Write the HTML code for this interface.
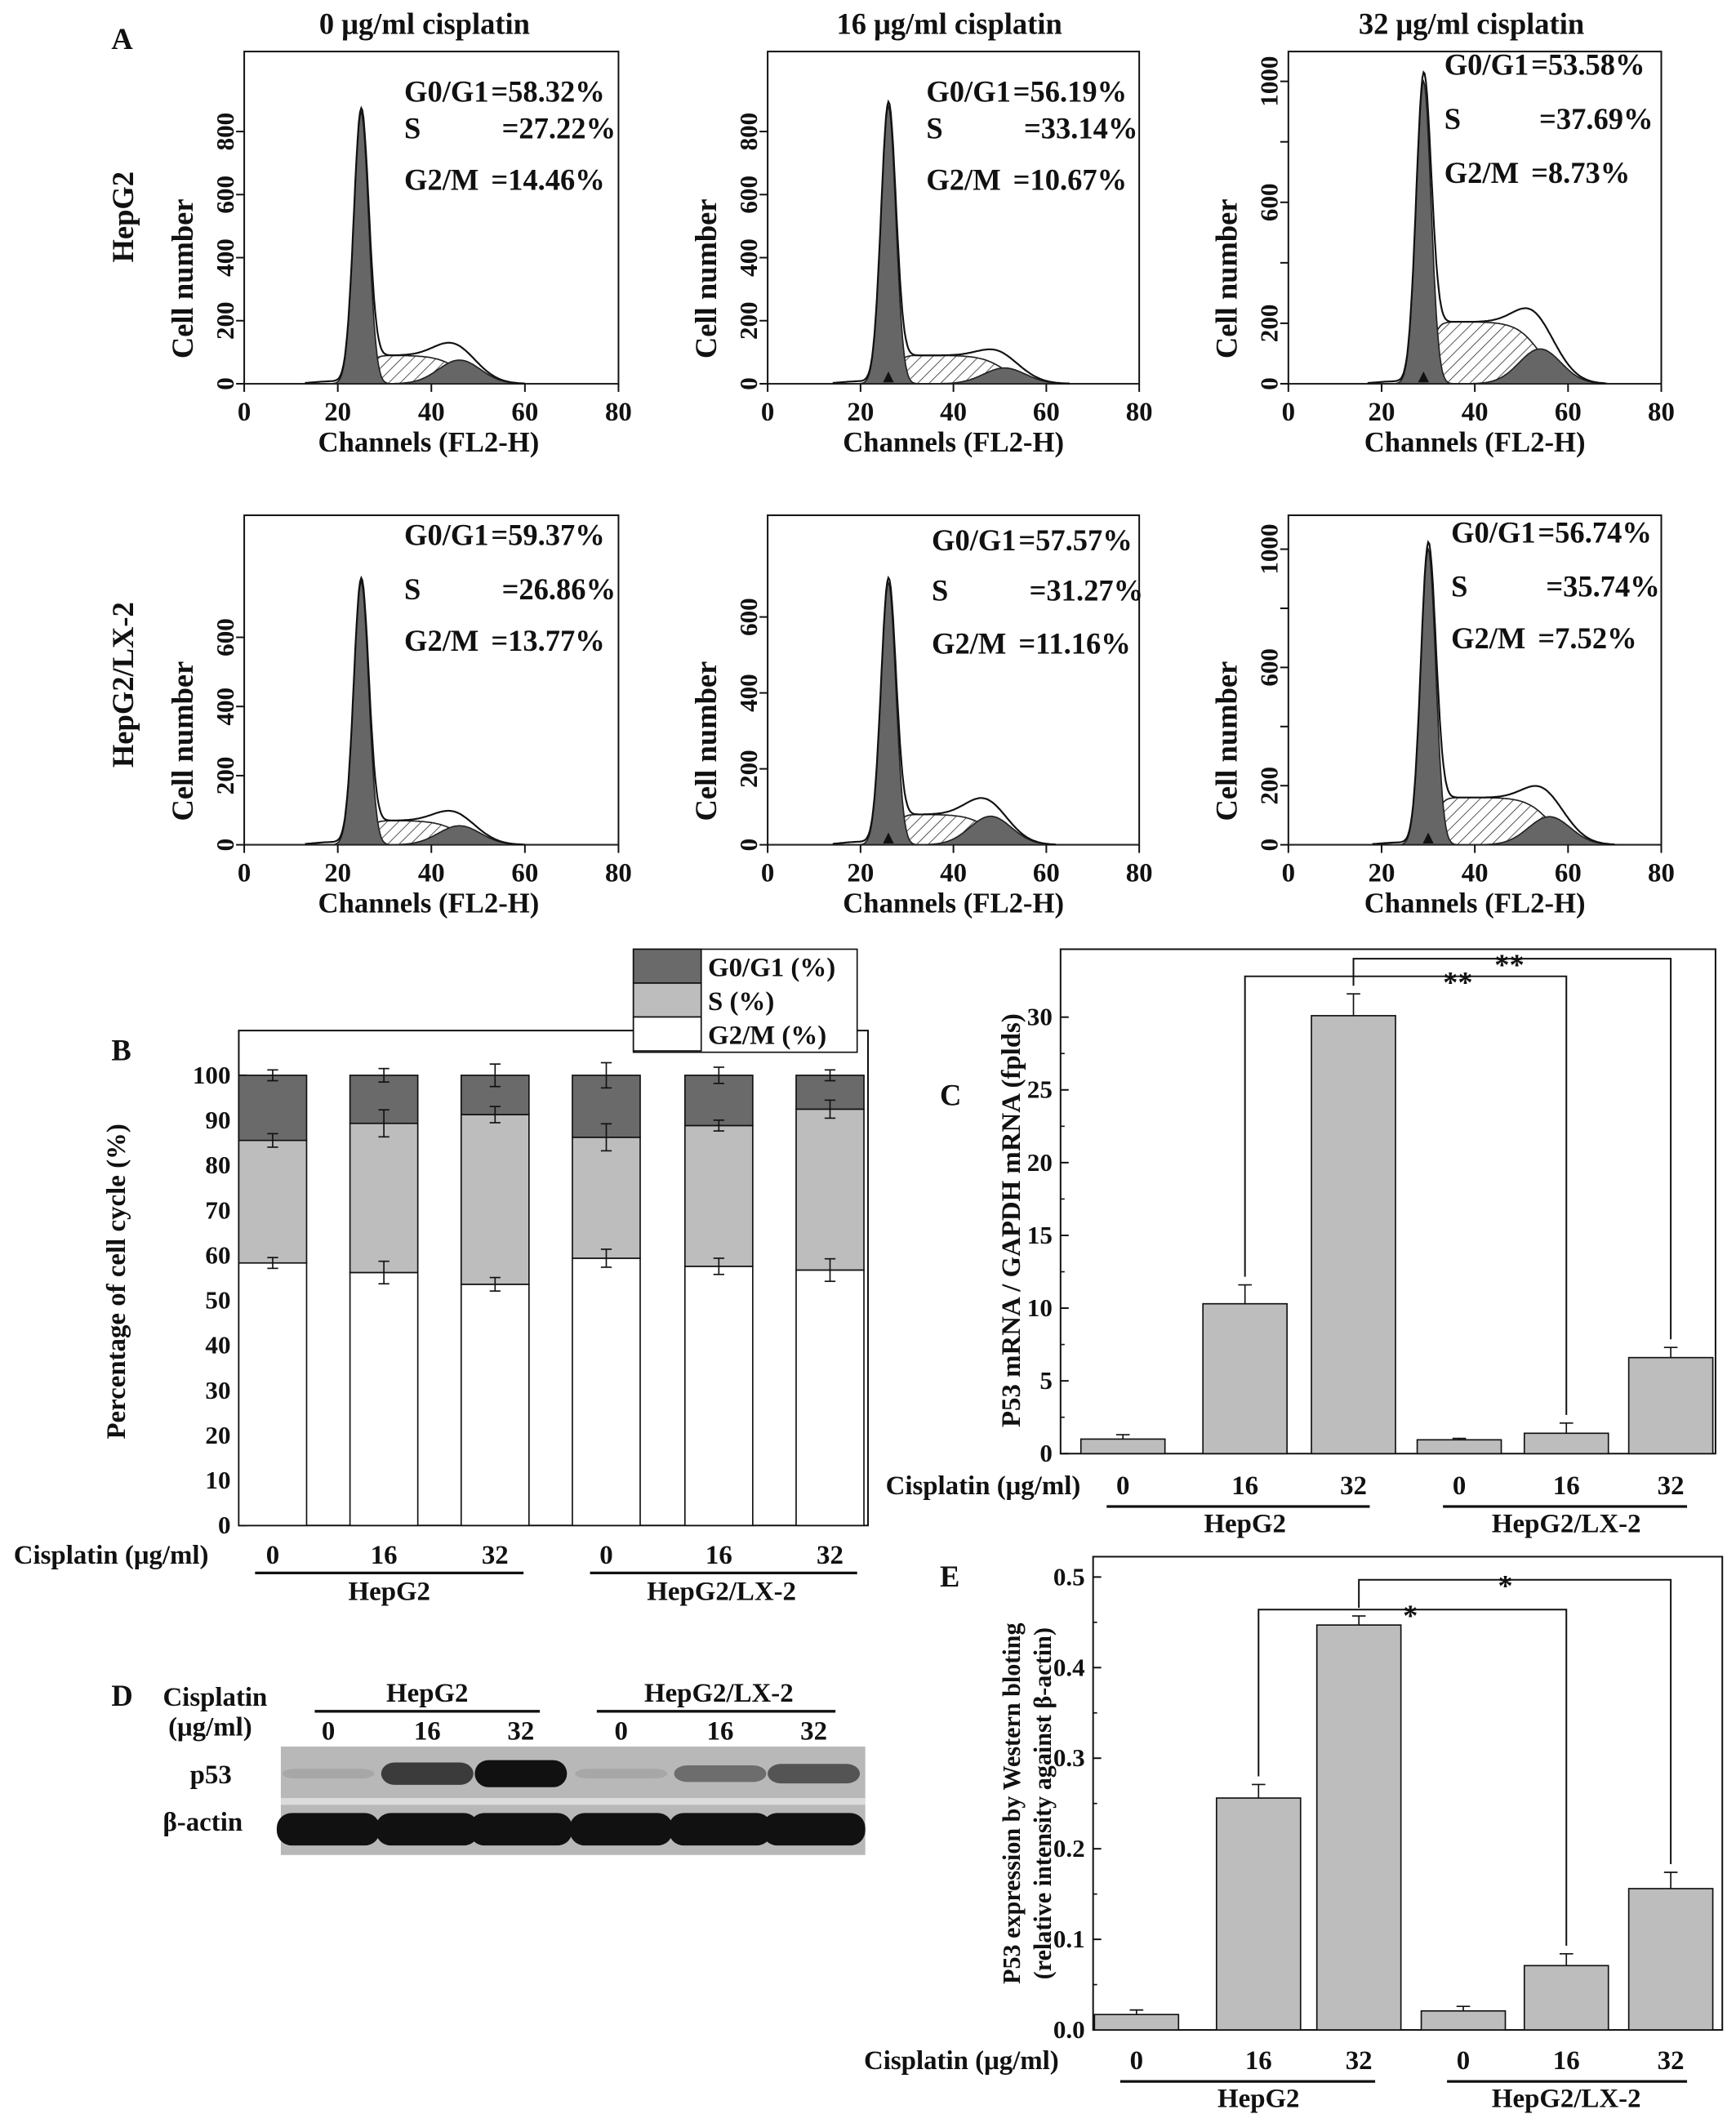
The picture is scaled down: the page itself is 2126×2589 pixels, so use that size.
<!DOCTYPE html>
<html><head><meta charset="utf-8"><style>
html,body{margin:0;padding:0;background:#fff}
svg{display:block}
text{font-family:"Liberation Serif",serif;font-weight:bold;fill:#111}
</style></head><body>
<svg id="fig" width="2126" height="2589" viewBox="0 0 1280 1559" xmlns="http://www.w3.org/2000/svg">
<defs>
<pattern id="hatch" patternUnits="userSpaceOnUse" width="6" height="6" patternTransform="rotate(45)">
<rect width="6" height="6" fill="#fff"/><line x1="0" y1="0" x2="0" y2="6" stroke="#333" stroke-width="1"/>
</pattern>
</defs>
<g id="root"></g>
</svg>
<script>
// ---------- Panel A data ----------
const statsG1 = ["=58.32%","=56.19%","=53.58%","=59.37%","=57.57%","=56.74%"];
const statsS  = ["=27.22%","=33.14%","=37.69%","=26.86%","=31.27%","=35.74%"];
const statsG2 = ["=14.46%","=10.67%","=8.73%","=13.77%","=11.16%","=7.52%"];
const g1Peak = [860,880,1000,760,690,1000];
const g1Pos  = [25,26,29,25,26,30];
const sLevel = [90,90,205,70,80,160];
const g2Peak = [75,50,115,55,75,95];
const g2Pos  = [46,51,54,46,48,56];
const histTickMax = [800,800,1000,600,600,1000];
const xTicksA = [0,20,40,60,80];
// ---------- Panel B data ----------
const bCats = ["0","16","32","0","16","32"];
const bG1 = [58.32,56.19,53.58,59.37,57.57,56.74];
const bS  = [27.22,33.14,37.69,26.86,31.27,35.74];
const bG1Err = [1.2,2.5,1.5,2.0,1.8,2.5];
const bSErr = [1.5,3.0,1.8,3.0,1.2,2.0];
const bTopErr = [1.2,1.5,2.5,2.8,1.8,1.2];
const bTicks = [0,10,20,30,40,50,60,70,80,90,100];
// ---------- Panel C data ----------
const cVals = [1.0,10.3,30.1,0.95,1.4,6.6];
const cErr  = [0.3,1.3,1.5,0.1,0.7,0.7];
const cTicks = [0,5,10,15,20,25,30];
// ---------- Panel E data ----------
const eVals = [0.017,0.256,0.447,0.021,0.071,0.156];
const eErr  = [0.005,0.015,0.01,0.005,0.013,0.018];
const eTicks = [0.0,0.1,0.2,0.3,0.4,0.5];
// ---------- Panel D blot intensities ----------
const p53Int = [0.08,0.75,1.0,0.08,0.45,0.6];
const actinInt = [1,1,1,1,1,1];

const NS="http://www.w3.org/2000/svg";
const FS=1.1;
const root=document.getElementById('root');
function el(tag,attrs,parent,txt){const e=document.createElementNS(NS,tag);for(const k in attrs)e.setAttribute(k,attrs[k]);if(txt!==undefined)e.textContent=txt;(parent||root).appendChild(e);return e;}
function T(x,y,s,size,anchor,rot,name,parent){const a={x:x,y:y,'font-size':(size||19)*FS,'text-anchor':anchor||'start'};if(rot)a.transform=`rotate(-90 ${x} ${y})`;const t=el('text',a,parent,s);

return t;}
function L(x1,y1,x2,y2,w,name,parent){const l=el('line',{x1,y1,x2,y2,stroke:'#111','stroke-width':w||1.5},parent);

return l;}

// ================= Panel A =================
T(82,36,"A",20,'start',false,'panel-a-letter');
const colX0=[180,566,950], colX1=[456,840,1225];
const titles=["0 μg/ml cisplatin","16 μg/ml cisplatin","32 μg/ml cisplatin"];
const titleX=[313,700,1085];
titles.forEach((t,i)=>T(titleX[i],25,t,20,'middle',false,'column-title'));
T(98,160,"HepG2",20,'middle',true,'row-label-hepg2');
T(98,505,"HepG2/LX-2",20,'middle',true,'row-label-hepg2-lx2');
const rowBase=[283,623], rowTop=[38,380];
const topTickY=[97,97,60,470,455,405];
const statX=[[298,362,370],[683,747,755],[1065,1129,1135],[298,362,370],[687,751,759],[1070,1134,1140]];
const statY=[[75,102,140],[75,102,140],[55,95,135],[402,442,480],[406,443,482],[400,440,478]];
const tickStepLbl=[200,200,400,200,200,400];
function gauss(c,p,s){return Math.exp(-(c-p)*(c-p)/(2*s*s));}
function sig(x){return 1/(1+Math.exp(-x));}
for(let k=0;k<6;k++){
  const r=Math.floor(k/3), c=k%3;
  const g=el('g',{});
  
  
  const x0=colX0[c], x1=colX1[c], yb=rowBase[r], yt=rowTop[r];
  const xs=v=>x0+(x1-x0)*v/80;
  const ppu=(yb-topTickY[k])/histTickMax[k];
  const ys=v=>yb-v*ppu;
  const fr=el('rect',{x:x0,y:yt,width:x1-x0,height:yb-yt,fill:'none',stroke:'#111','stroke-width':1.2},g);
  
  
  const p1=g1Pos[k], p2=g2Pos[k];
  const sFn=ch=>sLevel[k]*sig((ch-p1-1.5)/0.8)*sig((p2-ch)/2.5);
  const g1Fn=ch=>g1Peak[k]*gauss(ch,p1,1.6);
  const g2Fn=ch=>g2Peak[k]*gauss(ch,p2,4.5);
  const pts=[];for(let ch=0;ch<=80;ch+=0.25)pts.push(ch);
  const area=(fn)=>{let d=`M${xs(0)},${yb}`;pts.forEach(ch=>d+=`L${xs(ch).toFixed(1)},${ys(fn(ch)).toFixed(1)}`);return d+`L${xs(80)},${yb}Z`;};
  const sp=el('path',{d:area(sFn),fill:'url(#hatch)',stroke:'#222','stroke-width':1},g);
  
  
  const gp1=el('path',{d:area(g1Fn),fill:'#666',stroke:'#222','stroke-width':1},g);
  
  
  const gp2=el('path',{d:area(g2Fn),fill:'#666',stroke:'#222','stroke-width':1},g);
  
  
  let d='';pts.filter(ch=>ch>=p1-12&&ch<=p2+14).forEach((ch,i)=>{const v=g1Fn(ch)+sFn(ch)+g2Fn(ch)+8*gauss(ch,p1-6,4);d+=(i?'L':'M')+xs(ch).toFixed(1)+','+ys(v).toFixed(1);});
  const op=el('path',{d:d,fill:'none',stroke:'#111','stroke-width':1.3},g);
  
  
  xTicksA.forEach(v=>{L(xs(v),yb,xs(v),yb+6,1.2,'x-tick',g);T(xs(v),yb+27,String(v),18,'middle',false,'x-tick-label',g);});
  for(let v=0;v<=histTickMax[k];v+=200){L(x0-6,ys(v),x0,ys(v),1.2,'y-tick',g);
    if(v===0||(tickStepLbl[k]===200)||((v-200)%400===0))T(x0-8,ys(v),String(v),17,'middle',true,'y-tick-label',g);}
  T((x0+x1)/2+(c==0?-2:0),yb+50,"Channels (FL2-H)",19,'middle',false,'x-axis-title',g);
  T(x0-38,(yt+yb)/2+45,"Cell number",20,'middle',true,'y-axis-title',g);
  if(c>0){const m=el('path',{d:`M${xs(p1)-4},${yb-1}L${xs(p1)+4},${yb-1}L${xs(p1)},${yb-9}Z`,fill:'#111'},g);
    
    }
  const sx=statX[k], sy=statY[k];
  T(sx[0],sy[0],"G0/G1",20,'start',false,'stat-g0g1-label',g);T(sx[1],sy[0],statsG1[k],20,'start',false,'stat-g0g1-value',g);
  T(sx[0],sy[1],"S",20,'start',false,'stat-s-label',g);T(sx[2],sy[1],statsS[k],20,'start',false,'stat-s-value',g);
  T(sx[0],sy[2],"G2/M",20,'start',false,'stat-g2m-label',g);T(sx[1],sy[2],statsG2[k],20,'start',false,'stat-g2m-value',g);
}

// ================= Panel B =================
(function(){
  const g=el('g',{});
  
  
  const x0=176,x1=640,y0=1125,ppu=3.32;
  const ys=v=>y0-v*ppu;
  const cx=[201,283,365,447,530,612], w=50;
  T(82,782,"B",20,'start',false,'panel-b-letter',g);
  const fr=el('rect',{x:x0,y:760,width:x1-x0,height:y0-760,fill:'none',stroke:'#111','stroke-width':1.2},g);
  
  
  bTicks.forEach(v=>{L(x0,ys(v),x0+6,ys(v),1.2,'y-tick',g);T(x0-6,ys(v)+6,String(v),17,'end',false,'y-tick-label',g);});
  for(let i=0;i<10;i++)L(x0,ys(i*10+5),x0+3,ys(i*10+5),1,'y-minor-tick',g);
  T(92,945,"Percentage of cell cycle (%)",18,'middle',true,'y-axis-title',g);
  cx.forEach((c,i)=>{
    const segs=[[0,bG1[i],'#fff','bar-g0g1'],[bG1[i],bG1[i]+bS[i],'#bdbdbd','bar-s'],[bG1[i]+bS[i],100,'#6a6a6a','bar-g2m']];
    segs.forEach(s=>{const r=el('rect',{x:c-w/2,y:ys(s[1]),width:w,height:ys(s[0])-ys(s[1]),fill:s[2],stroke:'#111','stroke-width':1},g);
      
      });
    [[bG1[i],bG1Err[i]],[bG1[i]+bS[i],bSErr[i]],[100,bTopErr[i]]].forEach(e=>{
      L(c,ys(e[0]-e[1]),c,ys(e[0]+e[1]),1,'error-bar',g);L(c-4,ys(e[0]-e[1]),c+4,ys(e[0]-e[1]),1,'error-cap',g);L(c-4,ys(e[0]+e[1]),c+4,ys(e[0]+e[1]),1,'error-cap',g);});
    T(c,1153,bCats[i],18,'middle',false,'x-tick-label',g);
  });
  T(10,1153,"Cisplatin (μg/ml)",18,'start',false,'cisplatin-label',g);
  L(188,1160,386,1160,2,'group-line',g);L(435,1160,632,1160,2,'group-line',g);
  T(287,1180,"HepG2",18,'middle',false,'group-label',g);T(532,1180,"HepG2/LX-2",18,'middle',false,'group-label',g);
  const lg=el('g',{},g);
  const lr=el('rect',{x:467,y:700,width:165,height:76,fill:'#fff',stroke:'#111','stroke-width':1},lg);
  
  [["G0/G1 (%)",'#6a6a6a'],["S (%)",'#bdbdbd'],["G2/M (%)",'#fff']].forEach((e,i)=>{
    const r=el('rect',{x:467,y:700+i*25,width:50,height:25,fill:e[1],stroke:'#111','stroke-width':1},lg);
    
    T(522,720+i*25,e[0],18,'start',false,'legend-entry',lg);});
})();

// ================= bar chart helper (C, E) =================
function barChart(cfg){
  const g=el('g',{});
  
  
  const ys=v=>cfg.y0-(v-cfg.ticks[0])*cfg.ppu;
  const fr=el('rect',{x:cfg.x0,y:cfg.yt,width:cfg.x1-cfg.x0,height:cfg.y0-cfg.yt,fill:'none',stroke:'#111','stroke-width':1.2},g);
  
  cfg.ticks.forEach((v,i)=>{L(cfg.x0,ys(v),cfg.x0+6,ys(v),1.2,'y-tick',g);T(cfg.x0-6,ys(v)+6,cfg.fmt(v),17,'end',false,'y-tick-label',g);
    if(i<cfg.ticks.length-1){const m=(v+cfg.ticks[i+1])/2;L(cfg.x0,ys(m),cfg.x0+3,ys(m),1,'y-minor-tick',g);}});
  cfg.vals.forEach((v,i)=>{const c=cfg.cx[i];
    const r=el('rect',{x:c-cfg.w/2,y:ys(v),width:cfg.w,height:ys(0)-ys(v),fill:'#bdbdbd',stroke:'#111','stroke-width':1},g);
    
    const e=cfg.err[i];
    L(c,ys(v),c,ys(v+e),1,'error-bar',g);L(c-5,ys(v+e),c+5,ys(v+e),1,'error-cap',g);
    T(c,cfg.catY,["0","16","32","0","16","32"][i],18,'middle',false,'x-tick-label',g);});
  T(cfg.cisX,cfg.catY,"Cisplatin (μg/ml)",18,'start',false,'cisplatin-label',g);
  L(cfg.cx[0]-12,cfg.catY+9,cfg.cx[2]+12,cfg.catY+9,2,'group-line',g);
  L(cfg.cx[3]-12,cfg.catY+9,cfg.cx[5]+12,cfg.catY+9,2,'group-line',g);
  T(cfg.cx[1],cfg.catY+28,"HepG2",18,'middle',false,'group-label',g);
  T(cfg.cx[4],cfg.catY+28,"HepG2/LX-2",18,'middle',false,'group-label',g);
  cfg.sig.forEach(s=>{const a=cfg.cx[s.a],b=cfg.cx[s.b];
    const ya=ys(cfg.vals[s.a]+cfg.err[s.a])-6, yb=ys(cfg.vals[s.b]+cfg.err[s.b])-6;
    const p=el('path',{d:`M${a},${ya}L${a},${s.y}L${b},${s.y}L${b},${yb}`,fill:'none',stroke:'#111','stroke-width':1.2},g);
    
    T(s.tx,s.y+12,s.label,20,'middle',false,'significance-mark',g);});
  return {g,ys};
}
const cc=barChart({name:'p53-mrna-chart',x0:782,x1:1265,yt:700,y0:1072,ppu:10.73,ticks:cTicks,fmt:v=>String(v),vals:cVals,err:cErr,
  cx:[828,918,998,1076,1155,1232],w:62,catY:1102,cisX:653,
  sig:[{a:1,b:4,y:720,tx:1075,label:"**"},{a:2,b:5,y:707,tx:1113,label:"**"}]});
T(693,815,"C",20,'start',false,'panel-c-letter',cc.g);
T(752,900,"P53 mRNA / GAPDH mRNA (fplds)",18,'middle',true,'y-axis-title',cc.g);

const ec=barChart({name:'p53-western-chart',x0:806,x1:1270,yt:1148,y0:1497,ppu:668,ticks:eTicks,fmt:v=>v.toFixed(1),vals:eVals,err:eErr,
  cx:[838,928,1002,1079,1155,1232],w:62,catY:1526,cisX:637,
  sig:[{a:1,b:4,y:1187,tx:1040,label:"*"},{a:2,b:5,y:1165,tx:1110,label:"*"}]});
T(693,1170,"E",20,'start',false,'panel-e-letter',ec.g);
T(752,1330,"P53 expression by Western bloting",16.5,'middle',true,'y-axis-title',ec.g);
T(775,1330,"(relative intensity against β-actin)",16.5,'middle',true,'y-axis-title-2',ec.g);

// ================= Panel D =================
(function(){
  const g=el('g',{});
  
  
  T(82,1258,"D",20,'start',false,'panel-d-letter',g);
  T(120,1258,"Cisplatin",18,'start',false,'cisplatin-label',g);
  T(124,1280,"(μg/ml)",18,'start',false,'unit-label',g);
  T(315,1255,"HepG2",18,'middle',false,'group-label',g);
  T(530,1255,"HepG2/LX-2",18,'middle',false,'group-label',g);
  L(232,1262,398,1262,2,'group-line',g);L(440,1262,616,1262,2,'group-line',g);
  const lx=[242,315,384,458,531,600];
  ["0","16","32","0","16","32"].forEach((s,i)=>T(lx[i],1283,s,18,'middle',false,'lane-label',g));
  const bg=el('rect',{x:207,y:1288,width:431,height:80,fill:'#b8b8b8'},g);
  
  const sep=el('rect',{x:207,y:1326,width:431,height:5,fill:'#dcdcdc'},g);
  
  T(140,1315,"p53",18,'start',false,'p53-label',g);
  T(120,1350,"β-actin",18,'start',false,'actin-label',g);
  lx.forEach((x,i)=>{
    const h=6+14*p53Int[i];
    const b=el('rect',{x:x-34,y:1308-h/2,width:68,height:h,rx:10,fill:'#111','fill-opacity':Math.max(0.1,p53Int[i])},g);
    
    const a=el('rect',{x:x-38,y:1349-12*actinInt[i],width:76,height:24*actinInt[i],rx:11,fill:'#111'},g);
    
  });
})();
</script>
</body></html>
